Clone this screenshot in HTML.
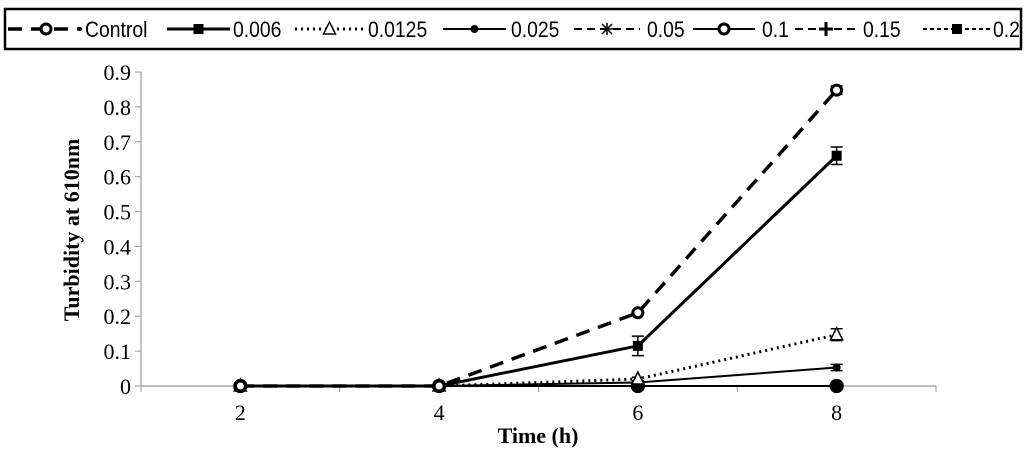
<!DOCTYPE html>
<html><head><meta charset="utf-8"><style>
body{margin:0;background:#fff;width:1024px;height:455px;overflow:hidden}
svg{display:block}
.t{font-family:"Liberation Serif",serif;font-size:22px;fill:#000}
.l{font-family:"Liberation Sans",sans-serif;font-size:22px;fill:#000}
</style></head><body>
<svg id="c" width="1024" height="455" xmlns="http://www.w3.org/2000/svg">
<rect x="5" y="9" width="1016" height="40" fill="#fff" stroke="#000" stroke-width="2.5"/>
<g id="legend"></g>
<g id="axes"></g>
<g id="series"></g>
<text class="t" x="79" y="230" font-weight="bold" font-size="21" text-anchor="middle" transform="rotate(-90 79 230)">Turbidity at 610nm</text>
<text class="t" x="538" y="443" font-weight="bold" font-size="21" text-anchor="middle">Time (h)</text>
</svg>
<script>
const categories=[2,4,6,8];
const yTicks=[0,0.1,0.2,0.3,0.4,0.5,0.6,0.7,0.8,0.9];
const yTickLabels=["0","0.1","0.2","0.3","0.4","0.5","0.6","0.7","0.8","0.9"];
const seriesNames=["Control","0.006","0.0125","0.025","0.05","0.1","0.15","0.2"];
const control=[0,0,0.21,0.848];
const s006=[0,0,0.115,0.66];
const s0125=[0,0,0.02,0.147];
const s025=[0,0,0.01,0.053];
const s05=[0,0,0,0];
const s1=[0,0,0,0];
const s15=[0,0,0,0];
const s2=[0,0,0,0];
const errControl=[0.003,0.003,0.005,0.012];
const err006=[0.003,0.003,0.028,0.025];
const err0125=[0,0,0.005,0.017];
const err025=[0,0,0.003,0.009];

const NS="http://www.w3.org/2000/svg";
const x0=141,x1=936,y0=386;
const xs=i=>x0+(x1-x0)/categories.length*(i+0.5);
const ys=v=>y0-v/0.9*(y0-72);
function el(tag,attrs,parent){const e=document.createElementNS(NS,tag);for(const k in attrs)e.setAttribute(k,attrs[k]);parent.appendChild(e);return e;}
const axes=document.getElementById('axes'),ser=document.getElementById('series'),leg=document.getElementById('legend');
let a=el('line',{x1:x0,y1:ys(0.9),x2:x0,y2:y0,stroke:'#999','stroke-width':1.2},axes);

a=el('line',{x1:x0,y1:y0,x2:x1,y2:y0,stroke:'#999','stroke-width':1.2},axes);

yTicks.forEach((v,i)=>{
 el('line',{x1:x0-6,y1:ys(v),x2:x0,y2:ys(v),stroke:'#999'},axes);
 const t=el('text',{class:'t',x:x0-10,y:ys(v)+8,'text-anchor':'end'},axes);t.textContent=yTickLabels[i];
 
 
});
for(let i=0;i<=categories.length;i++){const xx=x0+(x1-x0)/categories.length*i;el('line',{x1:xx,y1:y0,x2:xx,y2:y0+6,stroke:'#999'},axes);}
categories.forEach((c,i)=>{const t=el('text',{class:'t',x:xs(i),y:420,'text-anchor':'middle'},axes);t.textContent=c;
 
 });
const defs=[
 {d:s2,dash:'4 3',w:2,m:'sq',e:null},
 {d:s15,dash:'8 5',w:2,m:'plus',e:null},
 {d:s1,dash:'',w:2,m:'circ',e:null},
 {d:s05,dash:'8 5',w:2,m:'star',e:null},
 {d:s025,dash:'',w:2,m:'dot',e:err025},
 {d:s0125,dash:'2 4',w:3,m:'tri',e:err0125},
 {d:s006,dash:'',w:3,m:'sq',e:err006},
 {d:control,dash:'14 9',w:3.5,m:'circ',e:errControl}
];
const legendIdx=[7,6,5,4,3,2,1,0];
function marker(type,x,y,g){
 if(type==='sq')el('rect',{x:x-5,y:y-5,width:10,height:10,fill:'#000'},g);
 else if(type==='circ')el('circle',{cx:x,cy:y,r:5,fill:'#fff',stroke:'#000','stroke-width':3},g);
 else if(type==='dot')el('circle',{cx:x,cy:y,r:4,fill:'#000'},g);
 else if(type==='tri')el('path',{d:`M${x} ${y-7}L${x+6} ${y+5}L${x-6} ${y+5}Z`,fill:'#fff',stroke:'#000','stroke-width':1.5},g);
 else if(type==='plus')el('path',{d:`M${x-7} ${y}H${x+7}M${x} ${y-7}V${y+7}`,stroke:'#000','stroke-width':3},g);
 else if(type==='star')el('path',{d:`M${x-6} ${y}H${x+6}M${x} ${y-6}V${y+6}M${x-5} ${y-5}L${x+5} ${y+5}M${x+5} ${y-5}L${x-5} ${y+5}`,stroke:'#000','stroke-width':1.5},g);
}
defs.forEach((s,k)=>{
 const g=el('g',{},ser);
 
 
 const pts=s.d.map((v,i)=>xs(i)+','+ys(v)).join(' ');
 el('polyline',{points:pts,fill:'none',stroke:'#000','stroke-width':s.w,'stroke-dasharray':s.dash},g);
 s.d.forEach((v,i)=>{
  if(s.e&&s.e[i]>0.004){const x=xs(i);const t=ys(v+s.e[i]),b=ys(v-s.e[i]);
   el('path',{d:`M${x} ${t}V${b}M${x-6} ${t}H${x+6}M${x-6} ${b}H${x+6}`,stroke:'#000','stroke-width':1.5},g);}
  if(v===0&&(k<4)) el('circle',{cx:xs(i),cy:ys(v),r:7,fill:'#000'},g);
  else marker(s.m,xs(i),ys(v),g);
 });
});
const legL1=[8,167,295,443,574,693,795,923];
const legL2=[80,230,364,506,640,755,857,991];
const legT1=[85,233,368,511,647,762,863,993];
legendIdx.forEach((k,j)=>{
 const s=defs[k];const g=el('g',{},leg);
 
 
 const ly=29;
 el('line',{x1:legL1[j],y1:ly,x2:legL2[j],y2:ly,stroke:'#000','stroke-width':s.w,'stroke-dasharray':s.dash},g);
 marker(s.m,j===0?46:(legL1[j]+legL2[j])/2,ly,g);
 if(j===0) el('circle',{cx:80,cy:ly,r:2,fill:'#000'},g);
 const t=el('text',{class:'l',x:0,y:0,transform:`translate(${legT1[j]},37) scale(0.88,1)`},g);t.textContent=seriesNames[j];
});
</script>
</body></html>
